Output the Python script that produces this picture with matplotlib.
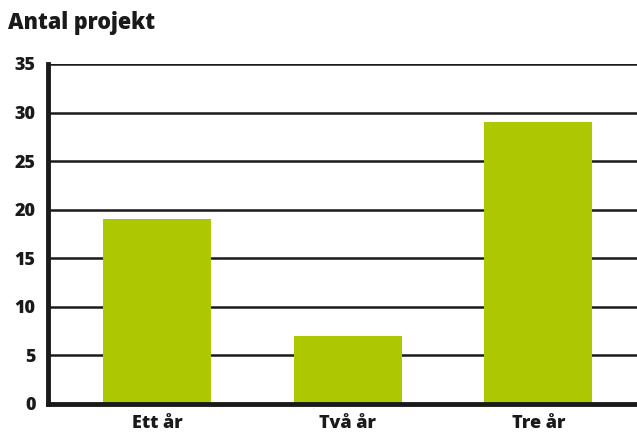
import matplotlib
matplotlib.use('Agg')
import matplotlib.pyplot as plt

plt.rcParams['font.family'] = ['Open Sans', 'DejaVu Sans']

categories = ['Ett år', 'Två år', 'Tre år']
values = [19, 7, 29]
yticks = [0, 5, 10, 15, 20, 25, 30, 35]

fig = plt.figure(figsize=(6.37, 4.32), dpi=100)
ax = fig.add_axes([48/637, 1-404/432, 1-48/637, (404-64)/432])

pos = range(len(categories))
for y in yticks[1:]:
    ax.axhline(y, color='#1a1a1a', lw=1.8, zorder=1)
ax.bar(pos, values, width=0.567, color='#adc700', zorder=2)

ax.set_xlim(-0.574, 2.518)
ax.set_ylim(0, 35)
ax.set_yticks(yticks)
ax.set_xticks(list(pos))
ax.set_xticklabels(categories, fontsize=13, fontweight=800, color='#1a1a1a')
ax.set_yticklabels([str(v) for v in yticks], fontsize=13, fontweight=800, color='#1a1a1a')
ax.tick_params(length=0, pad=9)
ax.tick_params(axis='x', pad=8)

for s in ['top', 'right']:
    ax.spines[s].set_visible(False)
ax.spines['left'].set_linewidth(3.5)
ax.spines['bottom'].set_linewidth(3.5)
ax.spines['left'].set_color('#1a1a1a')
ax.spines['bottom'].set_color('#1a1a1a')

fig.text(8/637, 1-23/432, 'Antal projekt', fontsize=15.5, fontweight=800, color='#1a1a1a', va='center')

fig.savefig('out.png', dpi=100)
